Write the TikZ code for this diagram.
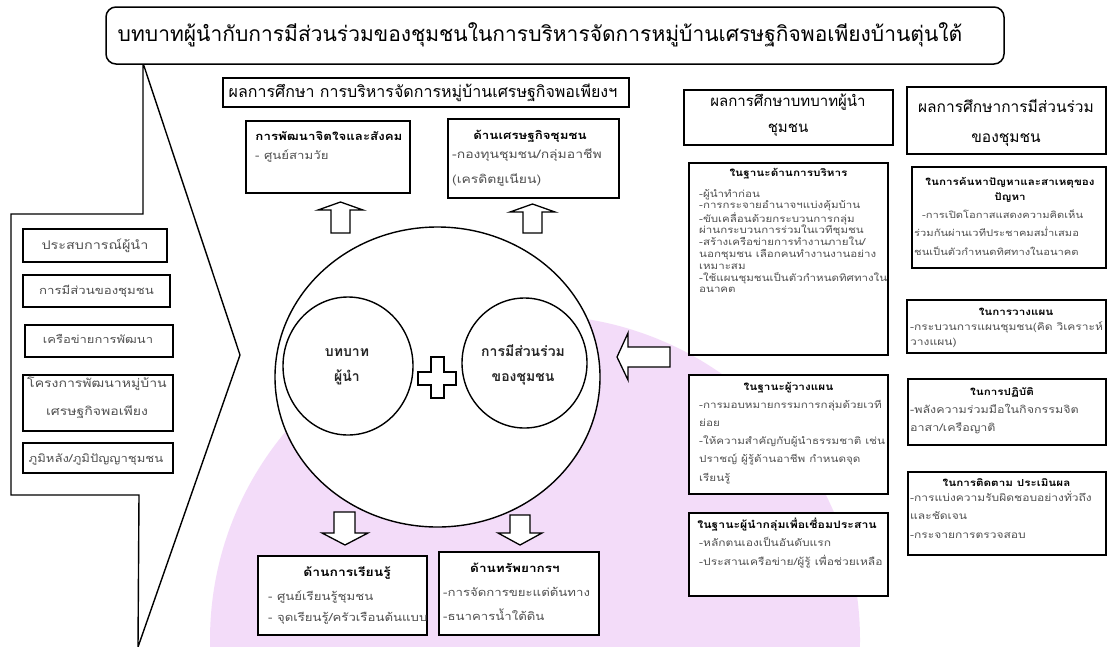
\documentclass[tikz,border=0pt]{standalone}
\usepackage{fontspec}
\setmainfont{Loma}[Script=Thai]
\newfontfamily\wf{Loma}[Script=Thai,FakeStretch=1.2]
\usetikzlibrary{shapes.geometric,fit}
\definecolor{wm}{RGB}{243,220,249}
\definecolor{bodygray}{RGB}{80,80,80}
\newcommand\pl[1]{\parbox[t]{400pt}{\raggedright #1}}
\newcommand\pc[2]{\parbox[t]{#1}{\centering #2}}
\newcommand\fs[2]{\fontsize{#1}{#2}\selectfont}
\tikzset{
  bx/.style={draw, line width=1.5pt, fill=white, inner sep=0pt},
  hbx/.style={draw, line width=1.8pt, fill=white, inner sep=0pt},
  tx/.style={inner sep=0pt, text=bodygray},
  hd/.style={inner sep=0pt, text=black, anchor=base},
  blk/.style={draw, line width=1.3pt, fill=white, line join=miter},
  circ/.style={ellipse, draw, line width=1.4pt, fill=white, inner sep=0pt},
}
\begin{document}
\begin{tikzpicture}[x=1pt,y=-1pt]
\useasboundingbox (0,0) rectangle (1110,646);
\fill[white] (0,0) rectangle (1110,646);
% watermark
\fill[wm] (535,640) circle[radius=325pt];
% callout
\draw[line width=1.4pt, fill=white, line join=miter] (143,63) -- (240,355) -- (138,647) -- (139,495) -- (11,495) -- (11,214) -- (143,214) -- cycle;
% title
\node[bx, rounded corners=10pt, fit={(106,7) (1004,64)}] (title) {};
\node[hd, font=\fs{21}{24}] (titlet) at (540,41) {บทบาทผู้นำกับการมีส่วนร่วมของชุมชนในการบริหารจัดการหมู่บ้านเศรษฐกิจพอเพียงบ้านตุ่นใต้};
% subtitle
\node[hbx, fit={(223,78) (629,107)}] (sub) {};
\node[hd, font=\fs{16}{18}] (subt) at (423,97.5) {ผลการศึกษา การบริหารจัดการหมู่บ้านเศรษฐกิจพอเพียงฯ};
% top boxes
\node[bx, fit={(246,121) (410,193)}] (psy) {};
\node[hd, font=\wf\fs{11.1}{13}\bfseries] (psyh) at (329,140) {การพัฒนาจิตใจและสังคม};
\node[tx, anchor=base west, font=\wf\fs{11}{13}] (psyb) at (255,159) {- ศูนย์สามวัย};
\node[bx, fit={(448,119) (619,198)}] (eco) {};
\node[hd, font=\wf\fs{11.1}{13}\bfseries] (ecoh) at (530,139) {ด้านเศรษฐกิจชุมชน};
\node[tx, anchor=base west, font=\wf\fs{11.6}{25}] (ecob) at (452,158) {\pl{-กองทุนชุมชน/กลุ่มอาชีพ\\(เครดิตยูเนียน)}};
% left boxes
\node[bx, fit={(23,229) (167,262)}] (l1) {};
\node[tx, anchor=base, font=\wf\fs{12}{14}] (l1t) at (95,249) {ประสบการณ์ผู้นำ};
\node[bx, fit={(23,275) (170,307)}] (l2) {};
\node[tx, anchor=base, font=\wf\fs{11}{14}] (l2t) at (96.5,294) {การมีส่วนของชุมชน};
\node[bx, fit={(25,325) (173,357)}] (l3) {};
\node[tx, anchor=base, font=\wf\fs{10.8}{14}] (l3t) at (98,343) {เครือข่ายการพัฒนา};
\node[bx, fit={(23,375) (173,431)}] (l4) {};
\node[tx, anchor=base, font=\wf\fs{11.7}{28}] (l4t) at (97,387) {\pc{150pt}{โครงการพัฒนาหมู่บ้าน\\เศรษฐกิจพอเพียง}};
\node[bx, fit={(23,443) (173,473)}] (l5) {};
\node[tx, anchor=base, font=\wf\fs{10.9}{14}] (l5t) at (96,462) {ภูมิหลัง/ภูมิปัญญาชุมชน};
% up arrows
\draw[blk] (331,233) -- (331,210) -- (318,210) -- (340.5,202) -- (363,210) -- (350,210) -- (350,233) -- cycle;
\draw[blk] (523,233) -- (523,212) -- (510,212) -- (532.5,204) -- (555,212) -- (542,212) -- (542,233) -- cycle;
% big circle
\node[circ, minimum width=325pt, minimum height=300pt] (big) at (437.5,377) {};
\node[circ, minimum width=130pt, minimum height=138pt] (lead) at (348,366) {};
\node[circ, minimum width=125pt, minimum height=130pt] (part) at (524.5,363) {};
\node[hd, text=black!85, font=\fs{14}{25}\bfseries] (leadt) at (347,356.5) {\pc{110pt}{บทบาท\\ผู้นำ}};
\node[hd, text=black!85, font=\fs{14}{25}\bfseries] (partt) at (523,356.5) {\pc{130pt}{การมีส่วนร่วม\\ของชุมชน}};
\draw[blk] (431,357) -- (444,357) -- (444,372) -- (456,372) -- (456,385) -- (444,385) -- (444,398) -- (431,398) -- (431,385) -- (418,385) -- (418,372) -- (431,372) -- cycle;
% left arrow
\draw[blk] (670,347) -- (628,347) -- (628,333) -- (617,357) -- (628,380) -- (628,367) -- (670,367) -- cycle;
% down arrows
\draw[blk] (334,512) -- (334,533) -- (322,533) -- (345,545) -- (368,533) -- (355,533) -- (355,512) -- cycle;
\draw[blk] (510,515) -- (510,533) -- (498,533) -- (520,545) -- (542,533) -- (530,533) -- (530,515) -- cycle;
% bottom boxes
\node[bx, fit={(258,556) (427,635)}] (learn) {};
\node[hd, font=\wf\fs{11.6}{15}\bfseries] (learnh) at (347,576.5) {ด้านการเรียนรู้};
\node[tx, anchor=base west, font=\wf\fs{11}{21}] (learnb) at (268,600) {\pl{- ศูนย์เรียนรู้ชุมชน\\- จุดเรียนรู้/ครัวเรือนต้นแบบ}};
\node[bx, fit={(439,552) (599,635)}] (res) {};
\node[hd, font=\wf\fs{11.3}{15}\bfseries] (resh) at (515,572.5) {ด้านทรัพยากรฯ};
\node[tx, anchor=base west, font=\wf\fs{11}{24}] (resb) at (443,596) {\pl{-การจัดการขยะแต่ต้นทาง\\-ธนาคารน้ำใต้ดิน}};
% right headers
\node[hbx, fit={(684,90) (893,145)}] (h1) {};
\node[hd, font=\fs{15}{26}] (h1t) at (788,106) {\pc{205pt}{ผลการศึกษาบทบาทผู้นำ\\ชุมชน}};
\node[hbx, fit={(907,87) (1106,154)}] (h2) {};
\node[hd, font=\fs{15.5}{30}] (h2t) at (1006,112.5) {\pc{195pt}{ผลการศึกษาการมีส่วนร่วม\\ของชุมชน}};
% column 1 boxes
\node[bx, fit={(689,163) (888,355)}] (c1a) {};
\node[hd, font=\wf\fs{9.8}{13}\bfseries] (c1ah) at (788.5,176) {ในฐานะด้านการบริหาร};
\node[tx, anchor=base west, font=\wf\fs{9.6}{11.8}] (c1ab) at (699,197) {\pl{-ผู้นำทำก่อน\\-การกระจายอำนาจฯแบ่งคุ้มบ้าน\\-ขับเคลื่อนด้วยกระบวนการกลุ่ม\\ผ่านกระบวนการร่วมในเวทีชุมชน\\-สร้างเครือข่ายการทำงานภายใน/\\นอกชุมชน เลือกคนทำงานงานอย่าง\\เหมาะสม\\-ใช้แผนชุมชนเป็นตัวกำหนดทิศทางใน\\อนาคต}};
\node[bx, fit={(689,375) (888,494)}] (c1b) {};
\node[hd, font=\wf\fs{9.8}{13}\bfseries] (c1bh) at (788.5,390) {ในฐานะผู้วางแผน};
\node[tx, anchor=base west, font=\wf\fs{9.7}{18.25}] (c1bb) at (699,408) {\pl{-การมอบหมายกรรมการกลุ่มด้วยเวที\\ย่อย\\-ให้ความสำคัญกับผู้นำธรรมชาติ เช่น\\ปราชญ์ ผู้รู้ด้านอาชีพ กำหนดจุด\\เรียนรู้}};
\node[bx, fit={(689,513) (888,596)}] (c1c) {};
\node[hd, font=\wf\fs{10.2}{13}\bfseries] (c1ch) at (787,528) {ในฐานะผู้นำกลุ่มเพื่อเชื่อมประสาน};
\node[tx, anchor=base west, font=\wf\fs{10}{19}] (c1cb) at (699,546) {\pl{-หลักตนเองเป็นอันดับแรก\\-ประสานเครือข่าย/ผู้รู้ เพื่อช่วยเหลือ}};
% column 2 boxes
\node[bx, fit={(912,167) (1106,268)}] (c2a) {};
\node[hd, font=\wf\fs{9.7}{15}\bfseries] (c2ah) at (1010,185) {\pc{190pt}{ในการค้นหาปัญหาและสาเหตุของ\\ปัญหา}};
\node[tx, anchor=base west, font=\wf\fs{9.3}{18.5}] (c2ab) at (914,218) {\pl{\hspace*{8pt}-การเปิดโอกาสแสดงความคิดเห็น\\ร่วมกันผ่านเวทีประชาคมสม่ำเสมอ\\ชนเป็นตัวกำหนดทิศทางในอนาคต}};
\node[bx, fit={(907,300) (1106,353)}] (c2b) {};
\node[hd, font=\wf\fs{9.7}{13}\bfseries] (c2bh) at (1016,315) {ในการวางแผน};
\node[tx, anchor=base west, font=\wf\fs{10}{15}] (c2bb) at (910,330) {\pl{-กระบวนการแผนชุมชน(คิด วิเคราะห์\\วางแผน)}};
\node[bx, fit={(908,379) (1106,445)}] (c2c) {};
\node[hd, font=\wf\fs{9.7}{13}\bfseries] (c2ch) at (1002,395) {ในการปฏิบัติ};
\node[tx, anchor=base west, font=\wf\fs{10.4}{18}] (c2cb) at (910,413) {\pl{-พลังความร่วมมือในกิจกรรมจิต\\อาสา/เครือญาติ}};
\node[bx, fit={(908,472) (1106,555)}] (c2d) {};
\node[hd, font=\wf\fs{9.7}{13}\bfseries] (c2dh) at (1006.5,486) {ในการติดตาม ประเมินผล};
\node[tx, anchor=base west, font=\wf\fs{10}{18.5}] (c2db) at (910,501) {\pl{-การแบ่งความรับผิดชอบอย่างทั่วถึง\\และชัดเจน\\-กระจายการตรวจสอบ}};
\end{tikzpicture}
\end{document}
